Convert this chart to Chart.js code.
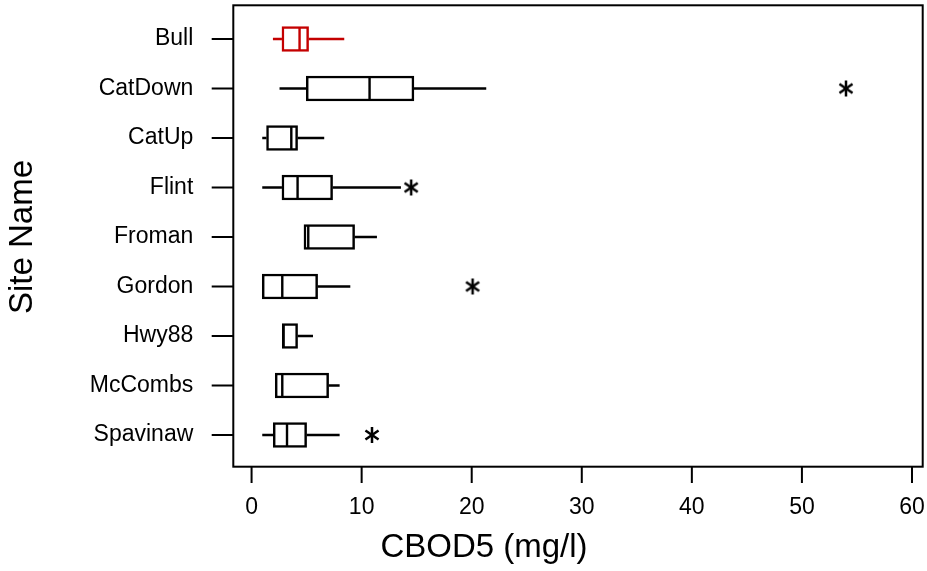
<!DOCTYPE html>
<html>
<head>
<meta charset="utf-8">
<title>CBOD5 by site</title>
<script src="https://cdn.jsdelivr.net/npm/chart.js@4/dist/chart.umd.min.js"></script>
<style>
  html, body { margin: 0; padding: 0; background: #fff; }
  #wrap { width: 927px; height: 571px; }
</style>
</head>
<body>
<div id="wrap"><canvas id="boxChart" width="927" height="571"></canvas></div>
<script>
/* ─── data ─── */
const sites    = ["Bull", "CatDown", "CatUp", "Flint", "Froman", "Gordon", "Hwy88", "McCombs", "Spavinaw"];
const whiskLo  = [1.94, 2.54, 0.97, 0.97, 4.76, 0.97, 2.79, 2.15, 0.97];
const q1       = [2.76, 4.97, 1.36, 2.76, 4.76, 0.97, 2.79, 2.15, 1.97];
const median   = [4.36, 10.72, 3.61, 4.18, 5.15, 2.79, 2.90, 2.79, 3.22];
const q3       = [5.18, 14.75, 4.18, 7.36, 9.36, 6.00, 4.18, 7.00, 5.00];
const whiskHi  = [8.42, 21.32, 6.60, 13.57, 11.39, 8.97, 5.58, 8.00, 8.00];

const outlierSites  = ["CatDown", "Flint", "Gordon", "Spavinaw"];
const outlierValues = [54.0, 14.5, 20.08, 10.94];

const xTicks = [0, 10, 20, 30, 40, 50, 60];
const xTitle = "CBOD5 (mg/l)";
const yTitle = "Site Name";

const boxColors = sites.map(s => s === "Bull" ? "#c40000" : "#000000");
const FONT = "'Liberation Sans', Arial, sans-serif";

/* ─── six-armed asterisk marker ─── */
function makeAsterisk() {
  const c = document.createElement("canvas");
  c.width = 20; c.height = 20;
  const g = c.getContext("2d");
  g.strokeStyle = "#000";
  g.lineWidth = 2.5;
  const r = 8;
  [90, 35, 145].forEach(deg => {
    const a = deg * Math.PI / 180;
    g.beginPath();
    g.moveTo(10 - r * Math.cos(a), 10 - r * Math.sin(a));
    g.lineTo(10 + r * Math.cos(a), 10 + r * Math.sin(a));
    g.stroke();
  });
  return c;
}

/* keep the scales from adding their own edge padding */
function noEdgePadding(scale) {
  scale.paddingLeft = scale.paddingRight = scale.paddingTop = scale.paddingBottom = 0;
}

/* ─── whiskers, medians, frame, tick marks, x title ─── */
const boxExtras = {
  id: "boxExtras",
  afterDatasetsDraw(chart) {
    const { ctx } = chart;
    const xs = chart.scales.x, ys = chart.scales.y;
    const half = 12;
    ctx.save();
    ctx.lineWidth = 2.4;
    sites.forEach((s, i) => {
      const y = ys.getPixelForValue(i);
      ctx.strokeStyle = boxColors[i];
      ctx.beginPath();
      ctx.moveTo(xs.getPixelForValue(whiskLo[i]), y);
      ctx.lineTo(xs.getPixelForValue(q1[i]), y);
      ctx.moveTo(xs.getPixelForValue(q3[i]), y);
      ctx.lineTo(xs.getPixelForValue(whiskHi[i]), y);
      const m = xs.getPixelForValue(median[i]);
      ctx.moveTo(m, y - half);
      ctx.lineTo(m, y + half);
      ctx.stroke();
    });

    /* frame around the plot */
    const fl = 233.3, fr = 922.7, ft = 5.3, fb = 466.7;
    ctx.lineWidth = 2;
    ctx.strokeStyle = "#000";
    ctx.strokeRect(fl, ft, fr - fl, fb - ft);

    /* y tick marks */
    ctx.beginPath();
    sites.forEach((s, i) => {
      const y = ys.getPixelForValue(i);
      ctx.moveTo(211.7, y);
      ctx.lineTo(fl, y);
    });
    /* x tick marks */
    xTicks.forEach(v => {
      const x = xs.getPixelForValue(v);
      ctx.moveTo(x, fb);
      ctx.lineTo(x, 483);
    });
    ctx.stroke();

    /* x axis title */
    ctx.fillStyle = "#000";
    ctx.font = "33px " + FONT;
    ctx.textAlign = "center";
    ctx.textBaseline = "alphabetic";
    ctx.fillText(xTitle, 484, 557);
    ctx.restore();
  }
};

/* ─── chart ─── */
new Chart(document.getElementById("boxChart"), {
  type: "bar",
  data: {
    labels: sites,
    datasets: [
      {
        label: "IQR",
        data: sites.map((s, i) => [q1[i], q3[i]]),
        backgroundColor: "#ffffff",
        borderColor: boxColors,
        borderWidth: 2.5,
        borderSkipped: false,
        barThickness: 25,
        order: 2,
      },
      {
        type: "scatter",
        label: "Outliers",
        data: outlierSites.map((s, i) => ({ x: outlierValues[i], y: s })),
        pointStyle: makeAsterisk(),
        pointRadius: 8,
        order: 1,
      },
    ],
  },
  options: {
    indexAxis: "y",
    responsive: false,
    animation: false,
    layout: { autoPadding: false, padding: { left: 0, right: 4, top: 14.25, bottom: 0 } },
    plugins: { legend: { display: false }, tooltip: { enabled: false } },
    scales: {
      x: {
        type: "linear",
        min: -1.66, max: 61,
        afterBuildTicks: scale => { scale.ticks = xTicks.map(v => ({ value: v })); },
        afterFit: scale => { scale.height = 571 - 459.75; noEdgePadding(scale); },
        grid: { display: false, drawTicks: false },
        border: { display: false },
        ticks: { color: "#000", font: { family: FONT, size: 23 }, padding: 34, maxRotation: 0 },
      },
      y: {
        type: "category",
        offset: true,
        afterFit: scale => { scale.width = 233.3; noEdgePadding(scale); },
        grid: { display: false, drawTicks: false },
        border: { display: false },
        ticks: { color: "#000", font: { family: FONT, size: 23 }, padding: 40 },
        title: {
          display: true, text: yTitle, color: "#000",
          font: { family: FONT, size: 33 }, padding: { top: 3, bottom: 0 },
        },
      },
    },
  },
  plugins: [boxExtras],
});
</script>
</body>
</html>
